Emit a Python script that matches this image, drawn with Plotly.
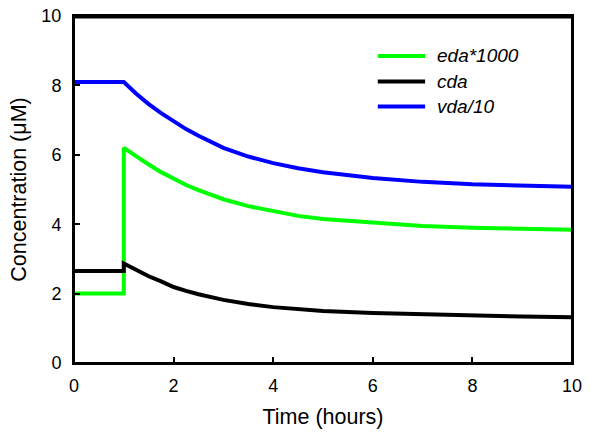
import plotly.graph_objects as go

# Time points (hours); t=1 appears twice for the step change
time_h = [0, 1, 1, 1.25, 1.5, 1.75, 2, 2.25, 2.5, 3, 3.5, 4, 4.5, 5, 6, 7, 8, 9, 10]

eda_x1000 = [2.0, 2.0, 6.2, 5.95, 5.72, 5.5, 5.3, 5.13, 4.98, 4.72, 4.52, 4.37,
             4.24, 4.15, 4.04, 3.95, 3.9, 3.87, 3.84]
cda = [2.65, 2.65, 2.87, 2.68, 2.5, 2.35, 2.19, 2.08, 1.98, 1.82, 1.7, 1.61,
       1.55, 1.5, 1.44, 1.4, 1.36, 1.34, 1.32]
vda_div10 = [8.1, 8.1, 8.1, 7.76, 7.46, 7.2, 6.96, 6.74, 6.55, 6.2, 5.95, 5.76,
             5.61, 5.5, 5.33, 5.22, 5.15, 5.11, 5.08]

series_names = ["eda*1000", "cda", "vda/10"]
series_values = [eda_x1000, cda, vda_div10]
series_colors = ["#00ff00", "#000000", "#0000ff"]

FONT = "Arial, 'Liberation Sans', sans-serif"

fig = go.Figure()
for name, ys, color in zip(series_names, series_values, series_colors):
    fig.add_trace(
        go.Scatter(
            x=time_h, y=ys, mode="lines", name=name,
            line={"color": color, "width": 4},
        )
    )

# Hand-built legend so the sample lines are as long as in the original.
legend_rows_y = [0.885, 0.811, 0.739]
for name, color, ly in zip(series_names, series_colors, legend_rows_y):
    fig.add_shape(
        type="line", xref="paper", yref="paper",
        x0=0.610, x1=0.705, y0=ly, y1=ly,
        line={"color": color, "width": 4},
    )
    fig.add_annotation(
        xref="paper", yref="paper", x=0.725, y=ly,
        xanchor="left", yanchor="middle", showarrow=False,
        text=f"<i>{name}</i>", font={"size": 19, "color": "black"},
    )

# Frame around the plotting area, with the top edge drawn a bit heavier.
fig.add_shape(
    type="rect", xref="paper", yref="paper", x0=0, x1=1, y0=0, y1=1,
    line={"color": "black", "width": 2}, layer="above",
)
fig.add_shape(
    type="line", xref="paper", yref="paper", x0=0, x1=1, y0=0.997, y1=0.997,
    line={"color": "black", "width": 3}, layer="above",
)

axis_common = dict(
    showline=True, linecolor="black", linewidth=2, mirror=True,
    ticks="inside", ticklen=6, tickwidth=2, tickcolor="black",
    showgrid=False, zeroline=False, automargin=False,
    tickfont={"size": 18, "color": "black", "family": FONT},
)

fig.update_layout(
    width=600, height=436,
    margin={"l": 74, "r": 28, "t": 16, "b": 73},
    plot_bgcolor="white", paper_bgcolor="white",
    showlegend=False,
    font={"family": FONT, "color": "black", "size": 18},
    xaxis={**axis_common, "range": [0, 10], "dtick": 2,
           "title": {"text": "Time (hours)", "font": {"size": 21.5}, "standoff": 14},
           "ticklabelstandoff": 5},
    yaxis={**axis_common, "range": [0, 10], "dtick": 2,
           "title": {"text": "Concentration (μM)", "font": {"size": 21.5}, "standoff": 9},
           "ticklabelstandoff": 7},
)

# Drop the default 8px page margin so the figure sits at the window origin.
fig.write_html(
    "out.html",
    config={"displayModeBar": False},
    post_script="document.body.style.margin = '0';",
)
